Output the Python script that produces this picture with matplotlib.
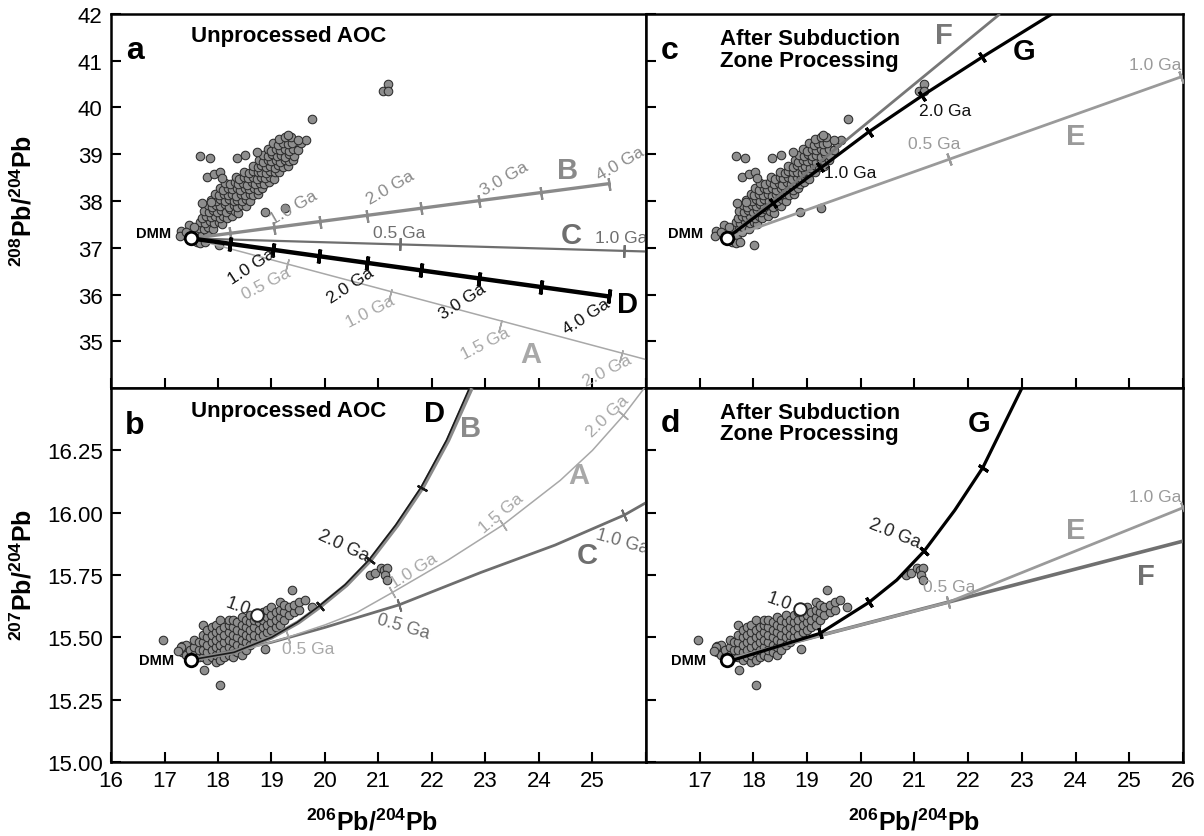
import numpy as np
import matplotlib
matplotlib.use('Agg')
import matplotlib.pyplot as plt

plt.rcParams['font.family'] = ['Liberation Sans', 'DejaVu Sans']
plt.rcParams['mathtext.fontset'] = 'custom'
plt.rcParams['mathtext.rm'] = 'Liberation Sans'
plt.rcParams['mathtext.bf'] = 'Liberation Sans:bold'

# ---- sample data ----
# 206Pb/204Pb vs 208Pb/204Pb (panels a, c)
pb206_ac = [17.61, 17.70, 17.79,
            17.65, 17.74, 17.81, 17.91,
            17.67, 17.75, 17.85, 17.93, 18.01, 18.07,
            17.71, 17.78, 17.87, 17.94, 18.03, 18.10, 18.17, 18.27,
            17.73, 17.83, 17.90, 17.99, 18.06, 18.15, 18.22, 18.31, 18.38,
            17.81, 17.88, 17.97, 18.04, 18.13, 18.20, 18.29, 18.36, 18.45, 18.52,
            17.87, 17.97, 18.04, 18.13, 18.20, 18.29, 18.36, 18.44, 18.53, 18.60,
            17.95, 18.02, 18.11, 18.18, 18.27, 18.34, 18.43, 18.50, 18.59, 18.66, 18.75,
            18.03, 18.10, 18.19, 18.26, 18.35, 18.42, 18.51, 18.58, 18.67, 18.74, 18.83,
            18.13, 18.22, 18.31, 18.38, 18.47, 18.54, 18.63, 18.70, 18.79, 18.86, 18.95,
            18.33, 18.40, 18.49, 18.56, 18.65, 18.72, 18.81, 18.88, 18.97, 19.04,
            18.49, 18.58, 18.65, 18.74, 18.81, 18.90, 18.97, 19.06, 19.14,
            18.65, 18.74, 18.81, 18.90, 18.97, 19.06, 19.13, 19.22, 19.31,
            18.77, 18.84, 18.93, 19.00, 19.09, 19.16, 19.25, 19.32, 19.41,
            18.85, 18.94, 19.01, 19.10, 19.17, 19.26, 19.33, 19.43,
            18.93, 19.00, 19.09, 19.16, 19.25, 19.32, 19.41, 19.50,
            19.03, 19.12, 19.21, 19.30, 19.38, 19.55, 19.64,
            19.14, 19.25, 19.36, 19.50, 19.30,
            # scattered samples
            17.67, 17.85, 18.35, 18.51, 18.73, 19.76, 18.87, 19.25, 17.79, 17.92,
            18.02, 17.70, 17.86, 18.03, 18.07, 21.09, 21.18, 21.18, 17.31, 17.29,
            17.46, 17.55, 17.60, 17.67, 17.75, 17.40, 17.52]
pb208_ac = [37.31, 37.27, 37.33,
            37.43, 37.40, 37.45, 37.41,
            37.55, 37.52, 37.57, 37.53, 37.56, 37.51,
            37.64, 37.68, 37.65, 37.69, 37.63, 37.67, 37.64, 37.69,
            37.79, 37.76, 37.81, 37.77, 37.80, 37.76, 37.82, 37.78, 37.75,
            37.91, 37.88, 37.92, 37.89, 37.93, 37.87, 37.91, 37.88, 37.92, 37.89,
            38.03, 38.00, 38.04, 38.01, 38.05, 38.00, 38.03, 38.01, 38.04, 38.00,
            38.15, 38.12, 38.16, 38.13, 38.15, 38.11, 38.16, 38.13, 38.15, 38.12, 38.16,
            38.27, 38.24, 38.28, 38.25, 38.27, 38.23, 38.28, 38.25, 38.27, 38.24, 38.28,
            38.39, 38.36, 38.40, 38.37, 38.39, 38.35, 38.40, 38.37, 38.39, 38.36, 38.40,
            38.51, 38.48, 38.52, 38.49, 38.51, 38.47, 38.52, 38.49, 38.51, 38.48,
            38.63, 38.60, 38.64, 38.61, 38.63, 38.59, 38.64, 38.61, 38.63,
            38.75, 38.72, 38.76, 38.73, 38.75, 38.71, 38.76, 38.73, 38.75,
            38.87, 38.84, 38.88, 38.85, 38.87, 38.83, 38.88, 38.85, 38.87,
            38.99, 38.96, 39.00, 38.97, 38.99, 38.95, 39.00, 38.97,
            39.11, 39.08, 39.12, 39.09, 39.11, 39.07, 39.12, 39.09,
            39.23, 39.20, 39.24, 39.21, 39.23, 39.24, 39.31,
            39.33, 39.36, 39.37, 39.30, 39.41,
            38.96, 38.93, 38.93, 38.98, 39.04, 39.76, 37.77, 37.84, 38.52, 38.58,
            37.06, 37.96, 37.98, 38.61, 38.50, 40.36, 40.50, 40.36, 37.36, 37.25,
            37.49, 37.44, 37.12, 37.10, 37.12, 37.33, 37.16]

# 206Pb/204Pb vs 207Pb/204Pb (panels b, d)
pb206_bd = [17.32, 17.32, 17.40, 17.40, 17.48, 17.48,
            17.56, 17.56, 17.56, 17.64, 17.64, 17.64,
            17.72, 17.72, 17.72, 17.72, 17.72,
            17.80, 17.80, 17.80, 17.80, 17.80,
            17.88, 17.88, 17.88, 17.88, 17.88,
            17.96, 17.96, 17.96, 17.96, 17.96, 17.96,
            18.04, 18.04, 18.04, 18.04, 18.04, 18.04,
            18.12, 18.12, 18.12, 18.12, 18.12,
            18.20, 18.20, 18.20, 18.20, 18.20, 18.20,
            18.28, 18.28, 18.28, 18.28, 18.28, 18.28,
            18.36, 18.36, 18.36, 18.36, 18.36,
            18.44, 18.44, 18.44, 18.44, 18.44, 18.44,
            18.52, 18.52, 18.52, 18.52, 18.52,
            18.60, 18.60, 18.60, 18.60, 18.60,
            18.68, 18.68, 18.68, 18.68,
            18.76, 18.76, 18.76, 18.76,
            18.84, 18.84, 18.84, 18.84,
            18.92, 18.92, 18.92, 18.92,
            19.00, 19.00, 19.00, 19.00,
            19.08, 19.08, 19.08,
            19.16, 19.16, 19.16, 19.16,
            19.24, 19.24, 19.24,
            19.32, 19.32, 19.42, 19.42, 19.52, 19.52, 19.62, 19.75,
            # scattered samples
            16.97, 17.73, 18.04, 18.88, 19.38, 20.84, 20.94, 21.04, 21.10, 21.16,
            21.13, 21.15, 17.30, 17.26]
pb207_bd = [15.44, 15.465, 15.43, 15.47, 15.42, 15.45,
            15.43, 15.46, 15.49, 15.42, 15.45, 15.48,
            15.42, 15.45, 15.48, 15.51, 15.55,
            15.41, 15.44, 15.47, 15.50, 15.53,
            15.42, 15.45, 15.48, 15.51, 15.54,
            15.40, 15.43, 15.46, 15.49, 15.52, 15.55,
            15.41, 15.44, 15.47, 15.50, 15.53, 15.57,
            15.42, 15.45, 15.48, 15.51, 15.54,
            15.43, 15.46, 15.49, 15.52, 15.55, 15.57,
            15.42, 15.45, 15.48, 15.51, 15.54, 15.57,
            15.44, 15.47, 15.50, 15.53, 15.56,
            15.43, 15.46, 15.49, 15.52, 15.55, 15.58,
            15.45, 15.48, 15.51, 15.54, 15.57,
            15.47, 15.50, 15.53, 15.56, 15.59,
            15.48, 15.51, 15.54, 15.57,
            15.50, 15.53, 15.56, 15.59,
            15.51, 15.54, 15.57, 15.60,
            15.52, 15.55, 15.58, 15.61,
            15.53, 15.56, 15.59, 15.62,
            15.54, 15.57, 15.60,
            15.55, 15.58, 15.61, 15.64,
            15.57, 15.60, 15.63,
            15.59, 15.62, 15.60, 15.63, 15.61, 15.64, 15.65, 15.62,
            15.49, 15.37, 15.31, 15.455, 15.69, 15.75, 15.76, 15.78, 15.77, 15.78,
            15.75, 15.73, 15.46, 15.445]

dmm_206, dmm_207, dmm_208 = 17.5, 15.41, 37.2

# ---- model evolution lines ----
# panel a (208 vs 206)
a_A_x, a_A_y = [17.5, 26.0], [37.2, 34.61]
a_A_tx, a_A_ty = [19.29, 21.22, 23.28, 25.54], [36.63, 36.00, 35.32, 34.68]
a_B_x, a_B_y = [17.5, 25.30], [37.2, 38.37]
a_B_tx = [18.23, 19.04, 19.90, 20.79, 21.80, 22.88, 24.03, 25.30]
a_B_ty = [37.31, 37.43, 37.56, 37.69, 37.84, 38.00, 38.18, 38.37]
a_C_x, a_C_y = [17.5, 26.0], [37.2, 36.92]
a_C_tx, a_C_ty = [21.40, 25.59], [37.07, 36.93]
a_D_x, a_D_y = [17.5, 25.30], [37.2, 35.96]
a_D_tx = [18.23, 19.03, 19.88, 20.79, 21.80, 22.88, 24.03, 25.30]
a_D_ty = [37.08, 36.96, 36.82, 36.68, 36.52, 36.34, 36.16, 35.96]

# panel b (207 vs 206)
b_A_x = [17.5, 18.5, 19.3, 20.0, 20.6, 21.26, 22.3, 23.32, 24.4, 25.0, 25.58, 25.97]
b_A_y = [15.41, 15.45, 15.50, 15.55, 15.60, 15.68, 15.81, 15.95, 16.13, 16.25, 16.39, 16.50]
b_A_tx, b_A_ty = [19.30, 21.26, 23.32, 25.58], [15.50, 15.68, 15.95, 16.39]
b_B_x = [17.5, 18.3, 19.0, 19.5, 19.91, 20.4, 20.85, 21.35, 21.82, 22.3, 22.74]
b_B_y = [15.41, 15.44, 15.50, 15.56, 15.624, 15.71, 15.81, 15.95, 16.10, 16.29, 16.50]
b_D_x = [17.5, 18.3, 19.0, 19.48, 19.88, 20.37, 20.82, 21.32, 21.79, 22.27, 22.70]
b_D_y = b_B_y
b_D_tx, b_D_ty = [19.91, 20.85, 21.82], [15.624, 15.81, 16.10]
b_C_x = [17.5, 19.0, 20.0, 21.38, 22.91, 24.3, 25.59, 26.0]
b_C_y = [15.41, 15.48, 15.54, 15.63, 15.76, 15.87, 15.99, 16.04]
b_C_tx, b_C_ty = [21.38, 25.59], [15.63, 15.99]

# panel c (208 vs 206)
c_E_x, c_E_y = [17.5, 26.0], [37.2, 40.67]
c_E_tx, c_E_ty = [21.64, 25.97], [38.89, 40.66]
c_F_x, c_F_y = [17.5, 22.59], [37.2, 42.0]
c_G_x = [17.5, 20.15, 21.14, 22.25, 23.56]
c_G_y = [37.2, 39.48, 40.25, 41.07, 42.0]
c_G_tx, c_G_ty = [18.36, 19.24, 20.15, 21.14, 22.25], [37.96, 38.72, 39.48, 40.25, 41.07]

# panel d (207 vs 206)
d_E_x, d_E_y = [17.5, 21.62, 26.0], [15.41, 15.64, 16.02]
d_E_tx, d_E_ty = [21.62, 26.0], [15.64, 16.02]
d_F_x, d_F_y = [17.5, 26.0], [15.41, 15.886]
d_G_x = [17.5, 17.64, 18.40, 19.24, 20.15, 20.67, 21.18, 21.75, 22.27, 23.0]
d_G_y = [15.41, 15.41, 15.46, 15.516, 15.64, 15.73, 15.846, 16.01, 16.18, 16.50]
d_G_tx, d_G_ty = [19.24, 20.15, 21.18, 22.27], [15.516, 15.64, 15.846, 16.18]

open_b = (18.72, 15.59)
open_d = (18.87, 15.612)

X_LIM = (16, 26)
TOP_LIM = (34, 42)
BOT_LIM = (15.0, 16.5)

fig = plt.figure(figsize=(12.04, 8.37), dpi=100)
ax_a = fig.add_axes([0.0922, 0.5352, 0.4443, 0.4469])
ax_c = fig.add_axes([0.5365, 0.5352, 0.4461, 0.4469])
ax_b = fig.add_axes([0.0922, 0.0884, 0.4443, 0.4468])
ax_d = fig.add_axes([0.5365, 0.0884, 0.4461, 0.4468])

for ax in (ax_a, ax_c):
    ax.set_xlim(*X_LIM)
    ax.set_ylim(*TOP_LIM)
for ax in (ax_b, ax_d):
    ax.set_xlim(*X_LIM)
    ax.set_ylim(*BOT_LIM)

GREY_PT = '#8e8e8e'
GA = 12.5  # size of the age labels


def scatter(ax, x, y):
    ax.scatter(x, y, s=38, c=GREY_PT, edgecolors='#2b2b2b', linewidths=0.75, zorder=2)


def dmm(ax, x, y, lx, ly):
    ax.plot([x], [y], 'o', ms=9, mfc='white', mec='black', mew=2, zorder=6)
    ax.text(lx, ly, 'DMM', fontsize=10.5, fontweight='bold', ha='center', va='center', zorder=7)


def curve(ax, xs, ys, color, lw, tx=None, ty=None, tlw=1.2, tsize=9, z=3):
    xs = np.asarray(xs, float)
    ys = np.asarray(ys, float)
    ax.plot(xs, ys, color=color, lw=lw, solid_capstyle='butt', zorder=z)
    if tx is None:
        return
    pts = ax.transData.transform(np.column_stack([xs, ys]))
    for x, y in zip(tx, ty):
        i = int(np.clip(np.searchsorted(xs, x), 1, len(xs) - 1))
        d = pts[i] - pts[i - 1]
        ang = np.degrees(np.arctan2(d[1], d[0]))
        ax.plot([x], [y], marker=(2, 2, ang), ms=tsize, mec=color, mew=tlw, zorder=z + 0.1)


def label(ax, x, y, s, color, size=GA, rot=0, bold=False):
    ax.text(x, y, s, color=color, fontsize=size, rotation=rot, ha='center', va='center',
            rotation_mode='anchor', fontweight='bold' if bold else 'normal', zorder=7)


C_A = '#a8a8a8'
C_B = '#8a8a8a'
C_C = '#6e6e6e'
C_E = '#9a9a9a'
C_F = '#777777'

# ---- panel a ----
scatter(ax_a, pb206_ac, pb208_ac)
curve(ax_a, a_A_x, a_A_y, C_A, 1.1, a_A_tx, a_A_ty, tlw=1.1)
curve(ax_a, a_C_x, a_C_y, C_C, 1.6, a_C_tx, a_C_ty, tlw=1.4)
curve(ax_a, a_B_x, a_B_y, C_B, 2.4, a_B_tx, a_B_ty, tlw=1.6)
curve(ax_a, a_D_x, a_D_y, 'black', 3.2, a_D_tx, a_D_ty, tlw=2.6, tsize=10)
dmm(ax_a, dmm_206, dmm_208, 16.80, 37.31)
for (x, y, s) in [(19.41, 37.88, '1.0 Ga'), (21.22, 38.29, '2.0 Ga'),
                  (23.36, 38.50, '3.0 Ga'), (25.53, 38.82, '4.0 Ga')]:
    label(ax_a, x, y, s, C_B, rot=30)
for (x, y, s) in [(18.62, 36.61, '1.0 Ga'), (20.48, 36.21, '2.0 Ga'),
                  (22.57, 35.86, '3.0 Ga'), (24.88, 35.54, '4.0 Ga')]:
    label(ax_a, x, y, s, '#111111', rot=33)
for (x, y, s) in [(18.90, 36.25, '0.5 Ga'), (20.85, 35.64, '1.0 Ga'),
                  (23.00, 34.96, '1.5 Ga'), (25.28, 34.39, '2.0 Ga')]:
    label(ax_a, x, y, s, C_A, rot=27)
label(ax_a, 21.39, 37.32, '0.5 Ga', C_C)
label(ax_a, 25.54, 37.22, '1.0 Ga', C_C)
label(ax_a, 24.53, 38.66, 'B', C_B, size=21, bold=True)
label(ax_a, 24.60, 37.27, 'C', C_C, size=21, bold=True)
label(ax_a, 25.66, 35.80, 'D', 'black', size=21, bold=True)
label(ax_a, 23.85, 34.72, 'A', C_A, size=21, bold=True)
ax_a.text(16.45, 41.22, 'a', fontsize=23, fontweight='bold', ha='center', va='center')
ax_a.text(19.32, 41.55, 'Unprocessed AOC', fontsize=16, fontweight='bold', ha='center', va='center')

# ---- panel c ----
scatter(ax_c, pb206_ac, pb208_ac)
curve(ax_c, c_E_x, c_E_y, C_E, 2.0, c_E_tx, c_E_ty, tlw=1.6)
curve(ax_c, c_F_x, c_F_y, C_F, 2.0)
curve(ax_c, c_G_x, c_G_y, 'black', 2.3, c_G_tx, c_G_ty, tlw=2.2, tsize=8)
dmm(ax_c, dmm_206, dmm_208, 16.74, 37.32)
label(ax_c, 19.80, 38.61, '1.0 Ga', '#111111')
label(ax_c, 21.57, 39.93, '2.0 Ga', '#111111')
label(ax_c, 21.36, 39.24, '0.5 Ga', C_E)
label(ax_c, 25.49, 40.91, '1.0 Ga', C_E)
label(ax_c, 21.54, 41.55, 'F', C_F, size=21, bold=True)
label(ax_c, 23.04, 41.21, 'G', 'black', size=21, bold=True)
label(ax_c, 24.01, 39.39, 'E', C_E, size=21, bold=True)
ax_c.text(16.45, 41.22, 'c', fontsize=23, fontweight='bold', ha='center', va='center')
ax_c.text(17.38, 41.24, 'After Subduction\nZone Processing', fontsize=16, fontweight='bold',
          ha='left', va='center', linespacing=1.05)

# ---- panel b ----
scatter(ax_b, pb206_bd, pb207_bd)
curve(ax_b, b_C_x, b_C_y, C_C, 2.0, b_C_tx, b_C_ty, tlw=1.4)
curve(ax_b, b_A_x, b_A_y, C_A, 1.1, b_A_tx, b_A_ty, tlw=1.1)
curve(ax_b, b_B_x, b_B_y, C_B, 3.2)
curve(ax_b, b_D_x, b_D_y, '#1a1a1a', 1.2, b_D_tx, b_D_ty, tlw=1.6, tsize=8)
ax_b.plot([open_b[0]], [open_b[1]], 'o', ms=9, mfc='white', mec='#222222', mew=1.4, zorder=4)
dmm(ax_b, dmm_206, dmm_207, 16.86, 15.41)
label(ax_b, 18.38, 15.625, '1.0', '#222222', size=13, rot=-20)
label(ax_b, 20.35, 15.87, '2.0 Ga', '#222222', size=13, rot=-25)
label(ax_b, 19.69, 15.455, '0.5 Ga', C_A)
label(ax_b, 21.66, 15.77, '1.0 Ga', C_A, rot=32)
label(ax_b, 23.30, 16.00, '1.5 Ga', C_A, rot=40)
label(ax_b, 25.28, 16.39, '2.0 Ga', C_A, rot=44)
label(ax_b, 21.46, 15.545, '0.5 Ga', C_C, size=13, rot=-16)
label(ax_b, 25.56, 15.885, '1.0 Ga', C_C, size=13, rot=-16)
label(ax_b, 22.04, 16.40, 'D', 'black', size=21, bold=True)
label(ax_b, 22.72, 16.34, 'B', C_B, size=21, bold=True)
label(ax_b, 24.75, 16.15, 'A', C_A, size=21, bold=True)
label(ax_b, 24.90, 15.83, 'C', C_C, size=21, bold=True)
ax_b.text(16.45, 16.35, 'b', fontsize=23, fontweight='bold', ha='center', va='center')
ax_b.text(19.32, 16.41, 'Unprocessed AOC', fontsize=16, fontweight='bold', ha='center', va='center')

# ---- panel d ----
scatter(ax_d, pb206_bd, pb207_bd)
curve(ax_d, d_F_x, d_F_y, '#707070', 2.6)
curve(ax_d, d_E_x, d_E_y, C_E, 2.0, d_E_tx, d_E_ty, tlw=1.5)
curve(ax_d, d_G_x, d_G_y, 'black', 2.3, d_G_tx, d_G_ty, tlw=2.2, tsize=8)
ax_d.plot([open_d[0]], [open_d[1]], 'o', ms=9, mfc='white', mec='#222222', mew=1.4, zorder=4)
dmm(ax_d, dmm_206, dmm_207, 16.80, 15.41)
label(ax_d, 18.47, 15.645, '1.0', '#222222', size=13, rot=-20)
label(ax_d, 20.63, 15.92, '2.0 Ga', '#222222', size=13, rot=-22)
label(ax_d, 21.64, 15.705, '0.5 Ga', C_E)
label(ax_d, 25.48, 16.066, '1.0 Ga', C_E)
label(ax_d, 22.20, 16.36, 'G', 'black', size=21, bold=True)
label(ax_d, 24.01, 15.93, 'E', C_E, size=21, bold=True)
label(ax_d, 25.30, 15.745, 'F', '#707070', size=21, bold=True)
ax_d.text(16.45, 16.36, 'd', fontsize=23, fontweight='bold', ha='center', va='center')
ax_d.text(17.38, 16.36, 'After Subduction\nZone Processing', fontsize=16, fontweight='bold',
          ha='left', va='center', linespacing=1.05)

# ---- axes styling ----
xt = list(range(16, 27))
for ax in (ax_a, ax_b, ax_c, ax_d):
    for sp in ax.spines.values():
        sp.set_linewidth(1.8)
    ax.tick_params(direction='in', length=7, width=1.5, labelsize=16,
                   top=False, right=False, pad=6)
    ax.set_xticks(xt)

ax_a.set_yticks(range(35, 43))
ax_c.set_yticks(range(35, 43))
ax_a.set_xticklabels([])
ax_c.set_xticklabels([])
ax_c.set_yticklabels([])
bt = [15.00, 15.25, 15.50, 15.75, 16.00, 16.25]
ax_b.set_yticks(bt)
ax_d.set_yticks(bt)
ax_b.set_yticklabels([f'{v:.2f}' for v in bt])
ax_d.set_yticklabels([])
ax_b.set_xticklabels([str(v) if v < 26 else '' for v in xt])
ax_d.set_xticklabels([str(v) if v > 16 else '' for v in xt])

fig.text(0.019, 0.760, r'$\mathbf{{}^{208}Pb/{}^{204}Pb}$', rotation=90, fontsize=18,
         ha='center', va='center')
fig.text(0.019, 0.313, r'$\mathbf{{}^{207}Pb/{}^{204}Pb}$', rotation=90, fontsize=18,
         ha='center', va='center')
fig.text(0.309, 0.018, r'$\mathbf{{}^{206}Pb/{}^{204}Pb}$', fontsize=18, ha='center', va='center')
fig.text(0.759, 0.018, r'$\mathbf{{}^{206}Pb/{}^{204}Pb}$', fontsize=18, ha='center', va='center')

fig.savefig('out.png', dpi=100)
